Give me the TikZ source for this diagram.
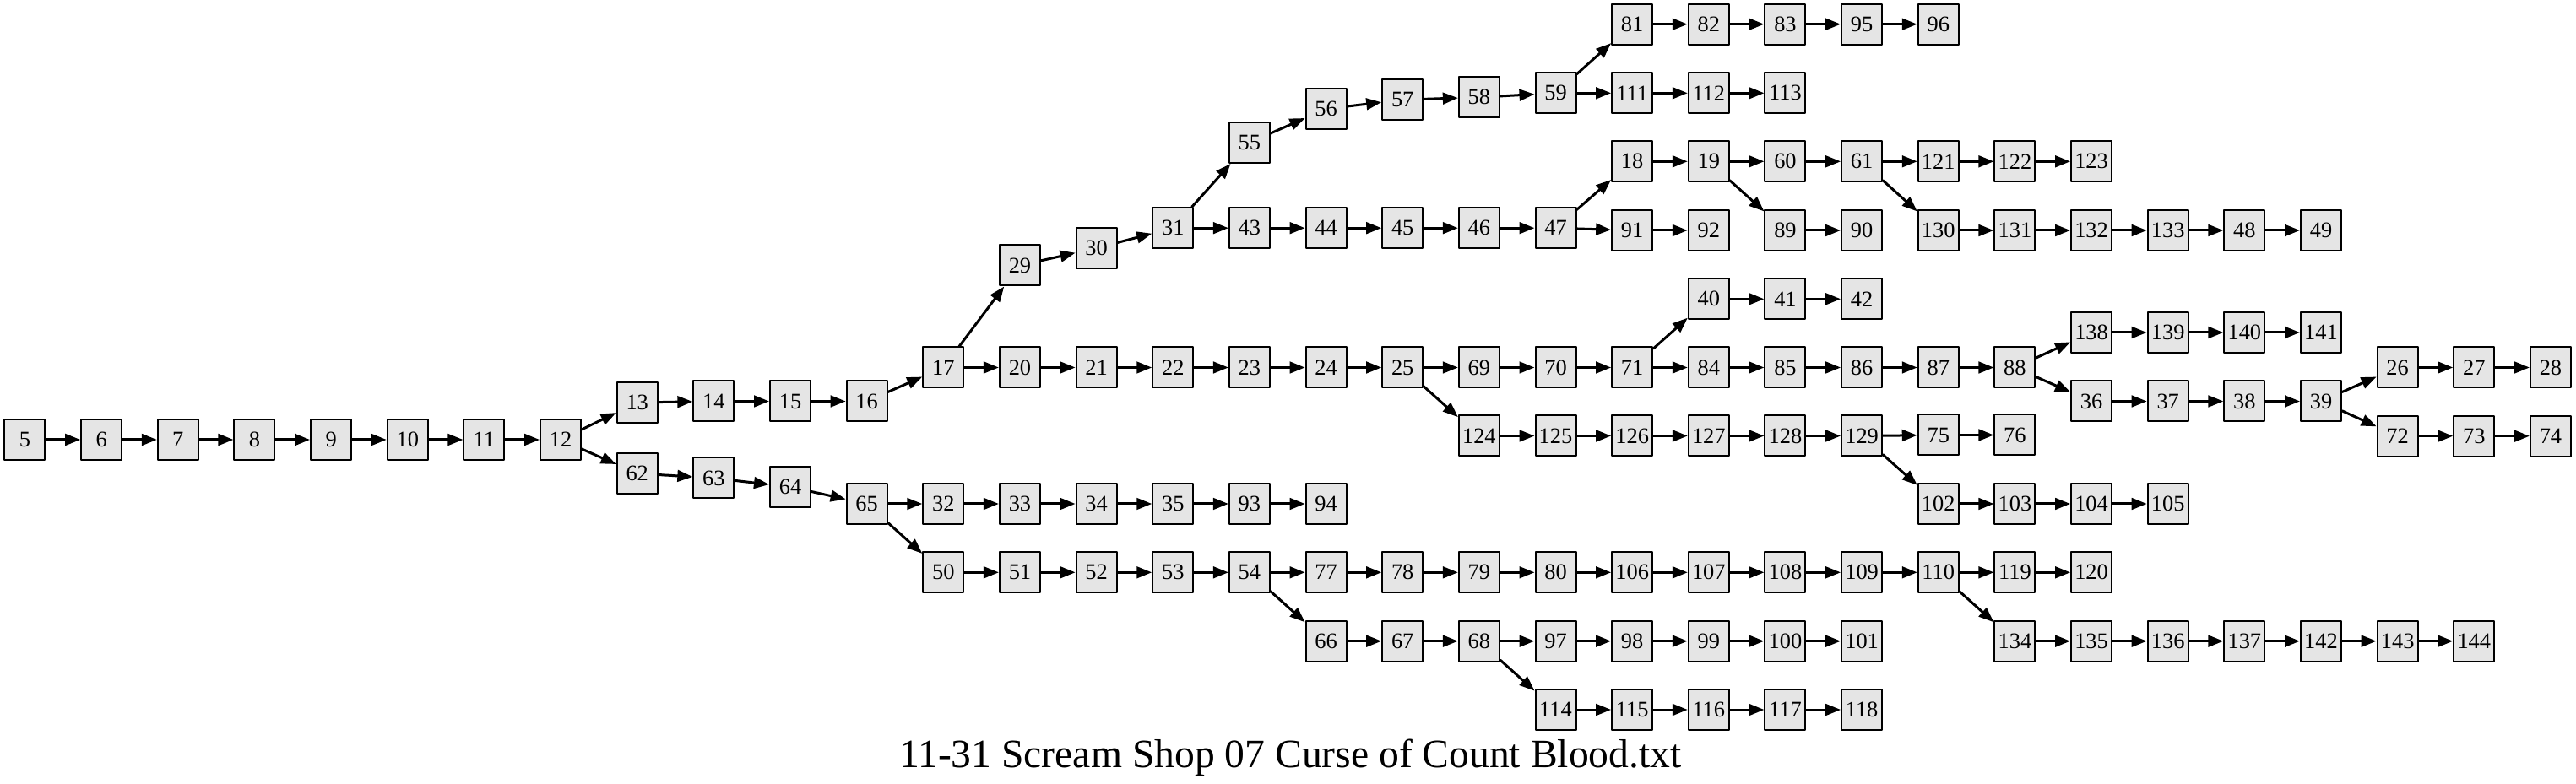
\documentclass[tikz,border=0pt]{standalone}
\usepackage{fontspec}
\setmainfont{Liberation Serif}
\usepackage{tikz}
\usetikzlibrary{arrows.meta}
\definecolor{boxgray}{rgb}{0.9,0.9,0.9}
\tikzset{
  pg/.style={draw=black,fill=boxgray,line width=0.5pt,minimum width=12pt,minimum height=12pt,inner sep=0pt,font=\fontsize{6.6}{6.6}\selectfont},
  link/.style={->,line width=0.75pt}
}
\begin{document}
\begin{tikzpicture}[line cap=round,line join=round,>={Triangle[length=4.5pt,width=3.4pt]},x=22.6625pt,y=-0.25pt]
	\useasboundingbox (-0.3254,0) rectangle (33.3315,929);
	% pages: name/rank/height
	\foreach \n/\c/\r in {5/0/521,6/1/521,7/2/521,8/3/521,9/4/521,10/5/521,11/6/521,12/7/521,
	  13/8/477,14/9/475.5,15/10/475.5,16/11/475.5,
	  62/8/561,63/9/566.5,64/10/577,65/11/597,
	  17/12/435.5,32/12/597,50/12/678.3,
	  29/13/314.5,20/13/435.5,33/13/597,51/13/678.3,
	  30/14/294,21/14/435.5,34/14/597,52/14/678.3,
	  31/15/270.2,22/15/435.5,35/15/597,53/15/678.3,
	  55/16/169,43/16/270.2,23/16/435.5,93/16/597,54/16/678.3,
	  56/17/129,44/17/270.2,24/17/435.5,94/17/597,77/17/678.3,66/17/759.7,
	  57/18/118.2,45/18/270.2,25/18/435.5,78/18/678.3,67/18/759.7,
	  58/19/115.3,46/19/270.2,69/19/435.5,124/19/516.5,79/19/678.3,68/19/759.7,
	  59/20/110.3,47/20/270.2,70/20/435.5,125/20/516.5,80/20/678.3,97/20/759.7,114/20/841,
	  81/21/28.7,111/21/110.3,18/21/191.3,91/21/273,71/21/435.5,126/21/516.5,106/21/678.3,98/21/759.7,115/21/841,
	  82/22/28.7,112/22/110.3,19/22/191.3,92/22/273,40/22/354.3,84/22/435.5,127/22/516.5,107/22/678.3,99/22/759.7,116/22/841,
	  83/23/28.7,113/23/110.3,60/23/191.3,89/23/273,41/23/354.3,85/23/435.5,128/23/516.5,108/23/678.3,100/23/759.7,117/23/841,
	  95/24/28.7,61/24/191.3,90/24/273,42/24/354.3,86/24/435.5,129/24/516.5,109/24/678.3,101/24/759.7,118/24/841,
	  96/25/28.7,121/25/191.3,130/25/273,87/25/435.5,75/25/515.5,102/25/597,110/25/678.3,
	  122/26/191.3,131/26/273,88/26/435.5,76/26/515.5,103/26/597,119/26/678.3,134/26/759.7,
	  123/27/191.3,132/27/273,138/27/394,36/27/475.5,104/27/597,120/27/678.3,135/27/759.7,
	  133/28/273,139/28/394,37/28/475.5,105/28/597,136/28/759.7,
	  48/29/273,140/29/394,38/29/475.5,137/29/759.7,
	  49/30/273,141/30/394,39/30/475.5,142/30/759.7,
	  26/31/435.5,72/31/516.7,143/31/759.7,
	  27/32/435.5,73/32/516.7,144/32/759.7,
	  28/33/435.5,74/33/516.7}
	  \node[pg] (n\n) at (\c,\r) {\n};
	% links
	\foreach \a/\b in {5/6,6/7,7/8,8/9,9/10,10/11,11/12,12/13,12/62,13/14,14/15,15/16,16/17,
	  17/29,17/20,29/30,30/31,31/55,31/43,55/56,56/57,57/58,58/59,59/81,59/111,
	  81/82,82/83,83/95,95/96,111/112,112/113,43/44,44/45,45/46,46/47,47/18,47/91,
	  18/19,19/60,19/89,60/61,61/121,61/130,121/122,122/123,130/131,131/132,132/133,
	  133/48,48/49,91/92,89/90,20/21,21/22,22/23,23/24,24/25,25/69,25/124,69/70,70/71,
	  71/40,71/84,40/41,41/42,84/85,85/86,86/87,87/88,88/138,88/36,138/139,139/140,
	  140/141,36/37,37/38,38/39,39/26,39/72,26/27,27/28,72/73,73/74,124/125,125/126,
	  126/127,127/128,128/129,129/75,129/102,75/76,102/103,103/104,104/105,62/63,63/64,
	  64/65,65/32,65/50,32/33,33/34,34/35,35/93,93/94,50/51,51/52,52/53,53/54,54/77,
	  54/66,77/78,78/79,79/80,80/106,106/107,107/108,108/109,109/110,110/119,110/134,
	  119/120,134/135,135/136,136/137,137/142,142/143,143/144,66/67,67/68,68/97,68/114,
	  97/98,98/99,99/100,100/101,114/115,115/116,116/117,117/118}
	  \draw[link] (n\a) -- (n\b);
	\node[font=\fontsize{11.9}{12}\selectfont,anchor=base] (title) at (16.535,909) {11-31 Scream Shop 07 Curse of Count Blood.txt};
\end{tikzpicture}
\end{document}
